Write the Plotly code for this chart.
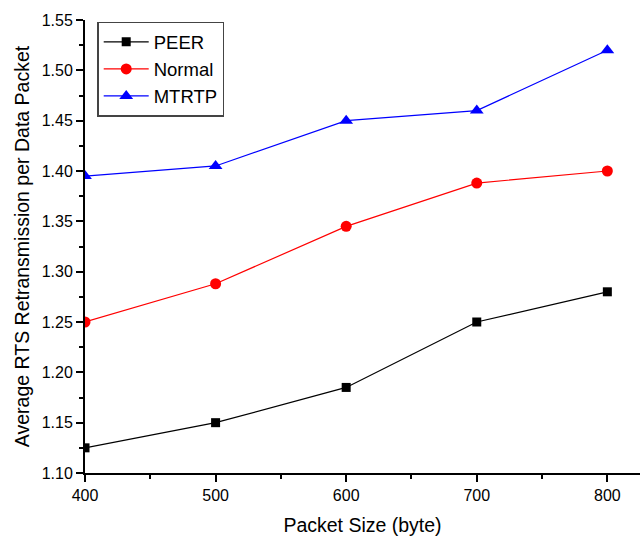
import plotly.graph_objects as go

packet_size = [400, 500, 600, 700, 800]
peer = [1.125, 1.15, 1.185, 1.25, 1.28]
normal = [1.25, 1.288, 1.345, 1.388, 1.40]
mtrtp = [1.395, 1.405, 1.45, 1.46, 1.52]

font_family = "Liberation Sans, Arial, sans-serif"

fig = go.Figure()
fig.add_trace(go.Scatter(x=packet_size, y=peer, mode="lines+markers", name="PEER",
                         line=dict(color="black", width=1.2),
                         marker=dict(symbol="square", size=9, color="black")))
fig.add_trace(go.Scatter(x=packet_size, y=normal, mode="lines+markers", name="Normal",
                         line=dict(color="red", width=1.2),
                         marker=dict(symbol="circle", size=11, color="red")))
fig.add_trace(go.Scatter(x=packet_size, y=mtrtp, mode="lines+markers", name="MTRTP",
                         line=dict(color="blue", width=1.2),
                         marker=dict(symbol="triangle-up", size=12, color="blue")))

fig.update_layout(
    width=643, height=540,
    margin=dict(l=85, r=3, t=20, b=67),
    paper_bgcolor="white", plot_bgcolor="white",
    font=dict(family=font_family, size=16, color="black"),
    showlegend=True,
    legend=dict(x=0.022, y=0.996, xanchor="left", yanchor="top",
                bordercolor="#444", borderwidth=1.5, bgcolor="white",
                font=dict(size=18.5, family=font_family), itemwidth=45,
                tracegroupgap=0),
    xaxis=dict(range=[400, 825], tickvals=[400, 500, 600, 700, 800],
               showline=True, linecolor="black", linewidth=2,
               ticks="outside", ticklen=7, tickwidth=1.5, tickcolor="black",
               minor=dict(tickvals=[450, 550, 650, 750], ticks="outside", ticklen=4,
                          tickwidth=1.5, tickcolor="black"),
               showgrid=False, zeroline=False,
               title=dict(text="Packet Size (byte)", font=dict(size=19.5), standoff=15)),
    yaxis=dict(range=[1.10, 1.55], tickvals=[1.10, 1.15, 1.20, 1.25, 1.30, 1.35, 1.40, 1.45, 1.50, 1.55],
               tickformat=".2f",
               showline=True, linecolor="black", linewidth=2,
               ticks="outside", ticklen=7, tickwidth=1.5, tickcolor="black",
               minor=dict(tickvals=[1.125, 1.175, 1.225, 1.275, 1.325, 1.375, 1.425, 1.475, 1.525],
                          ticks="outside", ticklen=4, tickwidth=1.5, tickcolor="black"),
               showgrid=False, zeroline=False,
               title=dict(text="Average RTS Retransmission per Data Packet", font=dict(size=19.5), standoff=7)),
)

fig.write_html("out.html")
